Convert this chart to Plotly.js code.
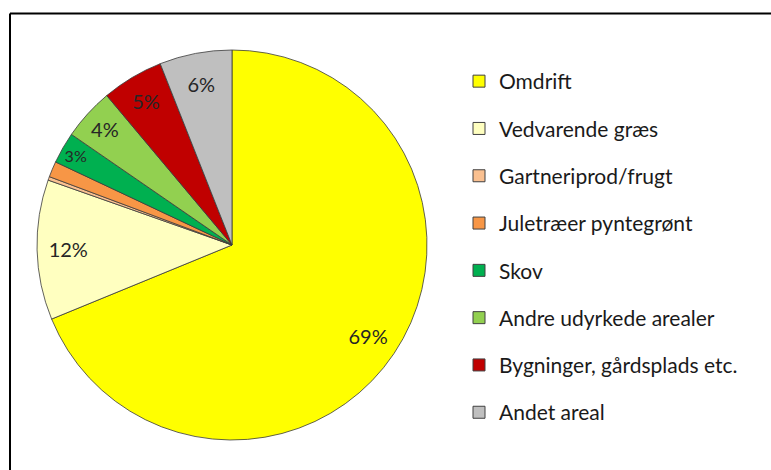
<!DOCTYPE html>
<html>
<head>
<meta charset="utf-8">
<script src="https://cdn.plot.ly/plotly-3.0.1.min.js"></script>
<style>html,body{margin:0;padding:0;background:#fff;}#chart{width:771px;height:470px;}</style>
</head>
<body>
<div id="chart"></div>
<script>
const categories = ["Omdrift","Vedvarende græs","Gartneriprod/frugt","Juletræer pyntegrønt","Skov","Andre udyrkede arealer","Bygninger, gårdsplads etc.","Andet areal"];
const shares = [68.8, 11.6, 0.3, 1.3, 2.6, 4.3, 5.1, 6.0];
const sliceColors = ["#FFFF00","#FFFFC0","#FAC090","#F79646","#00B050","#92D050","#C00000","#BFBFBF"];
const showLabel = [true, true, false, false, true, true, true, true];

const domain = {x:[37/771, 427/771], y:[30/470, 420/470]};
const font = "Lato, 'Open Sans', sans-serif";

const traces = [];
// base pie (colored slices)
traces.push({
  type:"pie", labels:categories, values:shares, sort:false, direction:"clockwise", rotation:0,
  marker:{colors:sliceColors, line:{color:"#3a3a3a", width:0.8}},
  textinfo:"none", showlegend:false, hoverinfo:"label+percent", domain:domain
});
// transparent ring carrying the percentage labels
traces.push({
  type:"pie", labels:categories, values:shares, sort:false, direction:"clockwise", rotation:0, hole:0.68,
  marker:{colors:categories.map(()=>"rgba(0,0,0,0)"), line:{width:0}},
  texttemplate:showLabel.map(s => s ? "%{percent:.0%}" : ""),
  textposition:"inside", insidetextorientation:"horizontal",
  textfont:{family:font, size:20, color:"#262626"},
  showlegend:false, hoverinfo:"skip", domain:domain
});
// legend entries
categories.forEach((c,i)=>{
  traces.push({
    type:"scatter", x:[null], y:[null], mode:"markers", name:c, legendgroup:"g"+i,
    marker:{symbol:"square", size:12, color:sliceColors[i], line:{color:"#404040", width:1}},
    hoverinfo:"skip"
  });
});

const layout = {
  width:771, height:470, margin:{l:0,r:0,t:0,b:0},
  paper_bgcolor:"#ffffff", plot_bgcolor:"rgba(0,0,0,0)",
  xaxis:{visible:false}, yaxis:{visible:false},
  showlegend:true,
  legend:{x:459/771, y:1-61/470, xanchor:"left", yanchor:"top", font:{family:font, size:21, color:"#1a1a1a"},
          tracegroupgap:17, traceorder:"grouped", bgcolor:"rgba(0,0,0,0)"},
  shapes:[
    {type:"line", xref:"paper", yref:"paper", x0:10/771, x1:1, y0:1-13.5/470, y1:1-13.5/470, line:{color:"#000", width:2.2}},
    {type:"line", xref:"paper", yref:"paper", x0:10/771, x1:10/771, y0:0, y1:1-13.5/470, line:{color:"#000", width:2}}
  ]
};
Plotly.newPlot("chart", traces, layout, {displayModeBar:false, staticPlot:true});
</script>
</body>
</html>
